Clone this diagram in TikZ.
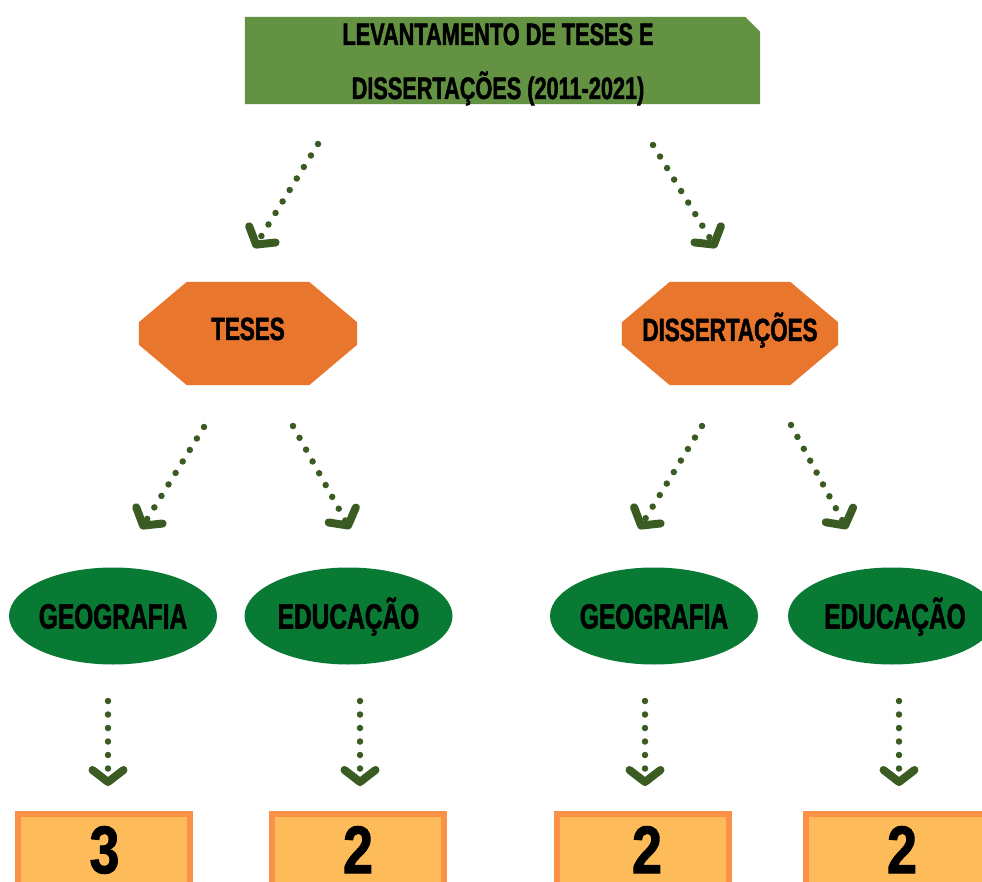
\documentclass[tikz,border=0pt]{standalone}
\usepackage{fontspec}
\setmainfont{Liberation Sans}[FakeStretch=0.7, BoldFeatures={FakeBold=1.5}]
\newfontfamily\numfont{Liberation Sans}[FakeStretch=0.8, BoldFeatures={FakeBold=1.5}]
\usetikzlibrary{arrows.meta,shapes.geometric}
\definecolor{topgreen}{RGB}{98,146,66}
\definecolor{octorange}{RGB}{232,118,45}
\definecolor{ellgreen}{RGB}{8,122,52}
\definecolor{dotgreen}{RGB}{58,92,34}
\definecolor{boxfill}{RGB}{253,187,90}
\definecolor{boxline}{RGB}{250,145,70}
\newcommand\octofill[1]{%
  \fill[octorange] ([xshift=48pt]#1.north west) -- ([xshift=-48pt]#1.north east)
    -- ([yshift=-40.5pt]#1.north east) -- ([yshift=40.5pt]#1.south east)
    -- ([xshift=-48pt]#1.south east) -- ([xshift=48pt]#1.south west)
    -- ([yshift=40.5pt]#1.south west) -- ([yshift=-40.5pt]#1.north west) -- cycle;}
\begin{document}
\begin{tikzpicture}[x=1pt,y=-1pt,
  toptext/.style={font=\bfseries\fontsize{31}{36}\selectfont, inner sep=0pt, anchor=base},
  frame/.style={rectangle, inner sep=0pt},
  octotext/.style={font=\bfseries\fontsize{32}{36}\selectfont, inner sep=0pt, text height=23pt, text depth=0pt},
  ell/.style={ellipse, fill=ellgreen, minimum width=208pt, minimum height=97pt, inner sep=0pt},
  elltext/.style={font=\bfseries\fontsize{35}{40}\selectfont, inner sep=0pt, text height=25pt, text depth=0pt},
  numbox/.style={rectangle, fill=boxfill, draw=boxline, line width=6pt, minimum width=172pt, minimum height=110pt, inner sep=0pt},
  numtext/.style={font=\numfont\bfseries\fontsize{67}{70}\selectfont, inner sep=0pt, anchor=base, text depth=0pt},
  dotarrow/.style={dotgreen, line width=6.5pt, line cap=round, dash pattern=on 0pt off 13.5pt,
    -{Straight Barb[length=12pt, width=31pt, line width=8pt, round]}}
]
\useasboundingbox (0,0) rectangle (982,882);
\clip (0,0) rectangle (982,882);

% top box
\node[frame, minimum width=515pt, minimum height=87pt] (top) at (502.5,60.5) {};
\fill[topgreen] (top.north west) -- ([xshift=-15pt]top.north east)
  -- ([yshift=-15pt]top.north east) -- (top.south east) -- (top.south west) -- cycle;
\node[toptext] (t1) at (498,45) {LEVANTAMENTO DE TESES E};
\node[toptext] (t2) at (498,99) {DISSERTAÇÕES (2011-2021)};

% octagons
\node[frame, minimum width=218pt, minimum height=103pt] (teses) at (248,333.5) {};
\octofill{teses}
\node[octotext] (tesest) at ([yshift=5pt]teses.center) {TESES};
\node[frame, minimum width=216pt, minimum height=103pt] (diss) at (730,333.5) {};
\octofill{diss}
\node[octotext] (disst) at ([yshift=4pt]diss.center) {DISSERTAÇÕES};

% ellipses
\node[ell] (geo1) at (113,616) {};
\node[elltext] (geo1t) at (geo1.center) {GEOGRAFIA};
\node[ell] (edu1) at (348.5,616) {};
\node[elltext] (edu1t) at (edu1.center) {EDUCAÇÃO};
\node[ell] (geo2) at (654,616) {};
\node[elltext] (geo2t) at (geo2.center) {GEOGRAFIA};
\node[ell] (edu2) at (892,616) {};
\node[elltext] (edu2t) at (895,616) {EDUCAÇÃO};

% number boxes
\node[numbox] (b1) at (104,869) {};
\node[numbox] (b2) at (357.5,869) {};
\node[numbox] (b3) at (642.5,869) {};
\node[numbox, minimum width=190pt] (b4) at (901,869) {};
\node[numtext] (n1) at (104.5,873) {3};
\node[numtext] (n2) at (358,873) {2};
\node[numtext] (n3) at (647,873) {2};
\node[numtext] (n4) at (902,873) {2};

% arrow coordinates
\coordinate (a1s) at (318,144); \coordinate (a1e) at (254,248);
\coordinate (a2s) at (653,145); \coordinate (a2e) at (716,248);
\coordinate (a3s) at (204,427); \coordinate (a3e) at (141,529);
\coordinate (a4s) at (293,426); \coordinate (a4e) at (350,529);
\coordinate (a5s) at (702,426); \coordinate (a5e) at (639,529);
\coordinate (a6s) at (791,425); \coordinate (a6e) at (847,529);
\coordinate (v1s) at (108,701); \coordinate (v1e) at (108,786);
\coordinate (v2s) at (360,701); \coordinate (v2e) at (360,786);
\coordinate (v3s) at (645,701); \coordinate (v3e) at (645,786);
\coordinate (v4s) at (899,701); \coordinate (v4e) at (899,786);

\foreach \a in {a1,a2,a3,a4,a5,a6,v1,v2,v3,v4}
  \draw[dotarrow] (\a s) -- (\a e);
\end{tikzpicture}
\end{document}
